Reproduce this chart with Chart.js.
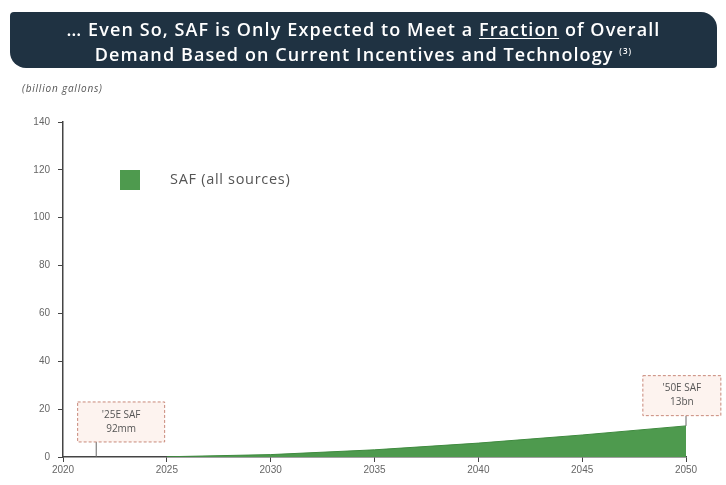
<!DOCTYPE html>
<html>
<head>
<meta charset="utf-8">
<script src="https://cdn.jsdelivr.net/npm/chart.js@4"></script>
<style>
  body { margin: 0; background: #fff; font-family: "Open Sans", sans-serif; }
  #wrap { position: relative; width: 726px; height: 485px; }
  #banner {
    position: absolute; left: 10px; top: 12px; width: 707px; height: 56px;
    background: #1f3242; color: #fff; border-radius: 4px 16px 4px 16px;
    text-align: center; font-weight: 600; font-size: 18px; line-height: 22px;
    padding-top: 6px; box-sizing: border-box; letter-spacing: 1.1px;
  }
  #banner u { text-decoration-thickness: 1px; text-underline-offset: 2px; }
  #banner sup { font-size: 8px; }
  #unit { position: absolute; left: 22px; top: 81px; font-size: 10px; font-style: italic; color: #555; letter-spacing: 0.8px; }
  #legend { position: absolute; left: 120px; top: 169px; font-size: 14.5px; color: #555; letter-spacing: 0.7px; }
  #legend span.box { display: inline-block; width: 20px; height: 20px; background: #4e9a4e; vertical-align: middle; margin-right: 30px; }
  canvas { position: absolute; left: 0; top: 0; }
</style>
</head>
<body>
<div id="wrap">
  <canvas id="chart" width="726" height="485"></canvas>
  <div id="banner">… Even So, SAF is Only Expected to Meet a <u>Fraction</u> of Overall<br>Demand Based on Current Incentives and Technology <sup>(3)</sup></div>
  <div id="unit">(billion gallons)</div>
  <div id="legend"><span class="box"></span>SAF (all sources)</div>
</div>
<script>
const years = [2025, 2030, 2035, 2040, 2045, 2050];
const safBn = [0.092, 1.0, 3.0, 5.8, 9.2, 13];
const yTicks = [0, 20, 40, 60, 80, 100, 120, 140];
const xTicks = [2020, 2025, 2030, 2035, 2040, 2045, 2050];
const callouts = [
  { year: 2025, value: 0.092, lines: ["'25E SAF", "92mm"], boxX: 2022.8, boxTop: 23, boxW: 87, lineX: 2021.6 },
  { year: 2050, value: 13, lines: ["'50E SAF", "13bn"], boxX: 2049.8, boxTop: 34, boxW: 78, lineX: 2050 }
];

// dashed label boxes with a leader line down to the series
const calloutPlugin = {
  id: 'callouts',
  afterDatasetsDraw(chart) {
    const { ctx, scales: { x, y } } = chart;
    ctx.save();
    callouts.forEach(c => {
      const lx = x.getPixelForValue(c.lineX);
      const cx = x.getPixelForValue(c.boxX);
      const top = y.getPixelForValue(c.boxTop);
      const h = 40;
      const left = cx - c.boxW / 2;
      ctx.setLineDash([]);
      ctx.strokeStyle = '#666';
      ctx.lineWidth = 1;
      ctx.beginPath();
      ctx.moveTo(lx, top + h);
      ctx.lineTo(lx, y.getPixelForValue(c.lineX === c.year ? c.value : 0));
      ctx.stroke();
      ctx.fillStyle = '#fdf3ef';
      ctx.fillRect(left, top, c.boxW, h);
      ctx.setLineDash([3, 2]);
      ctx.strokeStyle = '#c9897a';
      ctx.strokeRect(left, top, c.boxW, h);
      ctx.setLineDash([]);
      ctx.fillStyle = '#555';
      ctx.font = '10px "Open Sans"';
      ctx.textAlign = 'center';
      ctx.textBaseline = 'middle';
      ctx.fillText(c.lines[0], cx, top + 13);
      ctx.fillText(c.lines[1], cx, top + 27);
    });
    ctx.restore();
  }
};

new Chart('chart', {
  type: 'line',
  data: {
    datasets: [{
      label: 'SAF (all sources)',
      data: years.map((yr, i) => ({ x: yr, y: safBn[i] })),
      fill: 'origin',
      backgroundColor: '#4e9a4e',
      borderColor: '#3f8a3f',
      borderWidth: 1,
      pointRadius: 0,
      tension: 0
    }]
  },
  options: {
    responsive: false,
    animation: false,
    layout: { padding: { top: 122, right: 40, left: 0, bottom: 0 } },
    plugins: { legend: { display: false }, tooltip: { enabled: false } },
    scales: {
      x: {
        type: 'linear', min: 2020, max: 2050,
        afterBuildTicks: s => { s.ticks = xTicks.map(v => ({ value: v })); },
        afterFit: s => { s.height = 28; },
        grid: { drawOnChartArea: false, tickLength: 5, color: '#444' },
        border: { color: '#444', width: 1.5 },
        ticks: { color: '#666', font: { size: 10 }, padding: 2, callback: v => String(v) }
      },
      y: {
        min: 0, max: 140,
        afterBuildTicks: s => { s.ticks = yTicks.map(v => ({ value: v })); },
        afterFit: s => { s.width = 63; },
        grid: { drawOnChartArea: false, tickLength: 5, color: '#444' },
        border: { color: '#444', width: 1.5 },
        ticks: { color: '#666', font: { size: 10 }, padding: 8 }
      }
    }
  },
  plugins: [calloutPlugin]
});
</script>
</body>
</html>
